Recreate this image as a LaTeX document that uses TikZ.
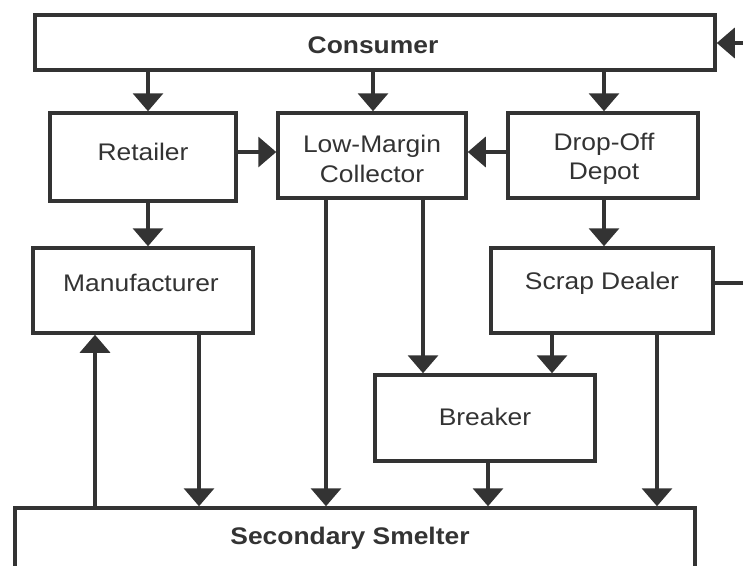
\documentclass[tikz,border=0pt]{standalone}
\usepackage{fontspec}
\setmainfont[FakeStretch=1.1]{Liberation Sans}
\usetikzlibrary{arrows.meta}
\definecolor{ink}{HTML}{333333}
\begin{document}
\begin{tikzpicture}[x=1pt,y=-1pt,
  box/.style={draw=ink,line width=3.5pt,inner sep=0pt},
  txt/.style={text=ink,inner sep=0pt,align=center,font=\fontsize{24}{29.5}\selectfont},
  btxt/.style={txt,font=\fontsize{24}{29.5}\selectfont\bfseries},
  conn/.style={draw=ink,line width=3.5pt,-{Triangle[width=30pt,length=18pt]}},
  line/.style={draw=ink,line width=3.5pt}]
\useasboundingbox (0,0) rectangle (743,565);
\clip (0,0) rectangle (743,565);
\node[box,minimum width=680pt,minimum height=55pt] (cons) at (375,42.5) {};
\node[box,minimum width=186pt,minimum height=88pt] (ret) at (143,157) {};
\node[box,minimum width=188pt,minimum height=85pt] (col) at (372,155.5) {};
\node[box,minimum width=190pt,minimum height=85pt] (dep) at (603,155.5) {};
\node[box,minimum width=220pt,minimum height=85pt] (man) at (143,290.5) {};
\node[box,minimum width=222pt,minimum height=85pt] (scr) at (602,290.5) {};
\node[box,minimum width=220pt,minimum height=86pt] (brk) at (485,418) {};
\node[box,minimum width=680pt,minimum height=62pt] (sme) at (355,539) {};
% texts
\node[btxt] (consT) at (373,45) {Consumer};
\node[txt] (retT) at (143,152) {Retailer};
\node[txt] (colT) at (372,159) {Low-Margin\\Collector};
\node[txt] (depT) at (604,159) {Drop-Off\\Depot};
\node[txt] (manT) at (141,283) {Manufacturer};
\node[txt] (scrT) at (602,283) {Scrap Dealer};
\node[txt] (brkT) at (485,417) {Breaker};
\node[btxt] (smeT) at (350,538) {Secondary Smelter};
\coordinate (rin) at (745,43);
\coordinate (rout) at (745,283);
% consumer down
\draw[conn] (cons.south -| 148,0) -- (ret.north -| 148,0);
\draw[conn] (cons.south -| 373,0) -- (col.north -| 373,0);
\draw[conn] (cons.south -| 604,0) -- (dep.north -| 604,0);
% sideways to collector
\draw[conn] (ret.east |- 0,152) -- (col.west |- 0,152);
\draw[conn] (dep.west |- 0,152) -- (col.east |- 0,152);
% retailer to manufacturer
\draw[conn] (ret.south -| 148,0) -- (man.north -| 148,0);
% depot to scrap dealer
\draw[conn] (dep.south -| 604,0) -- (scr.north -| 604,0);
% collector outputs
\draw[conn] (col.south -| 326,0) -- (sme.north -| 326,0);
\draw[conn] (col.south -| 423,0) -- (brk.north -| 423,0);
% scrap dealer outputs
\draw[conn] (scr.south -| 552,0) -- (brk.north -| 552,0);
\draw[conn] (scr.south -| 657,0) -- (sme.north -| 657,0);
% breaker to smelter
\draw[conn] (brk.south -| 488,0) -- (sme.north -| 488,0);
% manufacturer to smelter and back
\draw[conn] (man.south -| 199,0) -- (sme.north -| 199,0);
\draw[conn] (sme.north -| 95,0) -- (man.south -| 95,0);
% right side feedback
\draw[line] (scr.east |- rout) -- (rout);
\draw[conn] (rin) -- (cons.east |- rin);
\end{tikzpicture}
\end{document}
